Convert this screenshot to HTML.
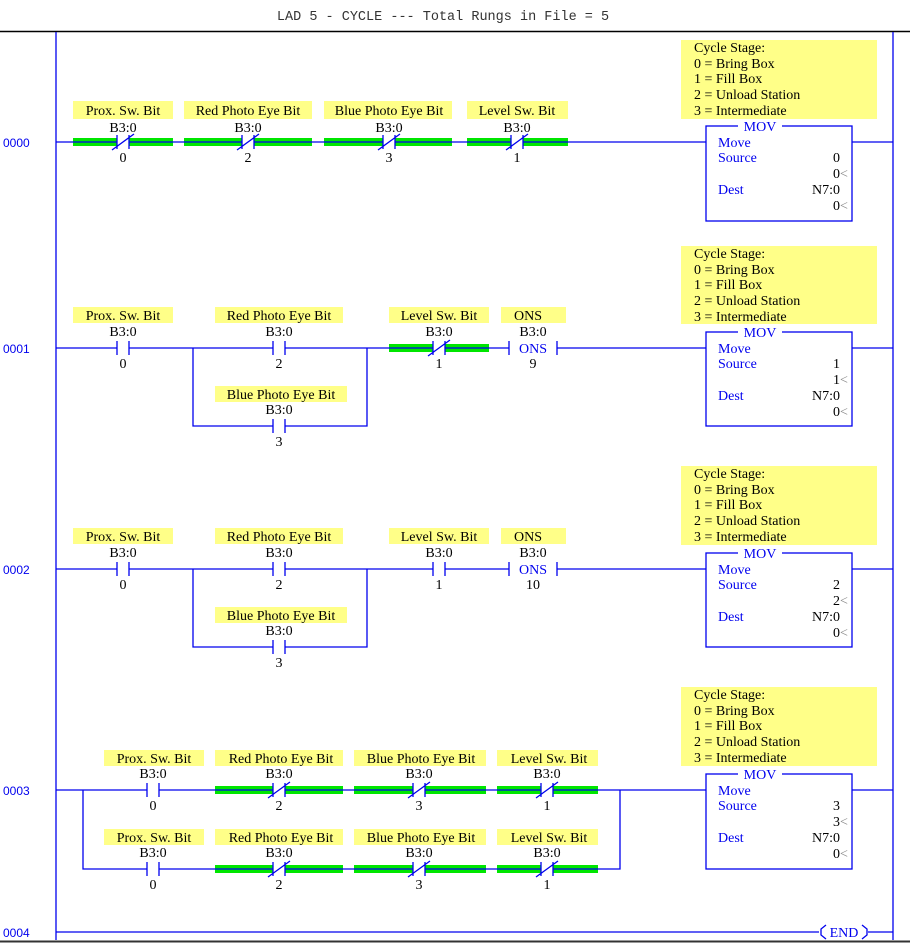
<!DOCTYPE html>
<html><head><meta charset="utf-8"><style>
html,body{margin:0;padding:0;background:#fff;}
svg{display:block;}
.l{font-family:"Liberation Serif",serif;font-size:14px;fill:#000;text-anchor:middle;}
.c{font-family:"Liberation Serif",serif;font-size:14px;fill:#000;}
.b{font-family:"Liberation Serif",serif;font-size:14px;fill:#0000ee;}
.r{font-family:"Liberation Sans",sans-serif;font-size:12px;fill:#0000ee;}
.w{stroke:#0000ee;stroke-width:1.3;fill:none;}
.y{fill:#ffff88;}
.g{fill:#00e600;}
</style></head><body>
<svg width="910" height="943" viewBox="0 0 910 943" xmlns="http://www.w3.org/2000/svg">
<defs>
<g id="nc"><rect x="-6" y="-5" width="12" height="10" fill="#fff"/><path class="w" d="M-6 -7V7M6 -7V7M-11 8L11 -8"/></g>
<g id="no"><rect x="-6" y="-5" width="12" height="10" fill="#fff"/><path class="w" d="M-6 -7V7M6 -7V7"/></g>
</defs>
<text x="443" y="20" text-anchor="middle" style="font-family:'Liberation Mono',monospace;font-size:13.5px;fill:#333">LAD 5 - CYCLE --- Total Rungs in File = 5</text>
<line x1="0" y1="31.5" x2="910" y2="31.5" stroke="#000" stroke-width="1.5"/>
<line x1="0" y1="941.5" x2="910" y2="941.5" stroke="#333" stroke-width="2"/>
<path class="w" d="M56 32V940M893 32V940"/>

<text class="r" x="3" y="147">0000</text>
<text class="r" x="3" y="353">0001</text>
<text class="r" x="3" y="574">0002</text>
<text class="r" x="3" y="795">0003</text>
<text class="r" x="3" y="937">0004</text>

<!-- RUNG 0 -->
<rect class="g" x="73" y="138" width="100" height="8"/>
<rect class="g" x="184" y="138" width="128" height="8"/>
<rect class="g" x="324" y="138" width="128" height="8"/>
<rect class="g" x="467" y="138" width="101" height="8"/>
<path class="w" d="M56 142H706M852 142H893"/>
<rect class="y" x="73" y="101" width="100" height="18"/><text class="l" x="123" y="115">Prox. Sw. Bit</text>
<rect class="y" x="184" y="101" width="128" height="18"/><text class="l" x="248" y="115">Red Photo Eye Bit</text>
<rect class="y" x="324" y="101" width="128" height="18"/><text class="l" x="389" y="115">Blue Photo Eye Bit</text>
<rect class="y" x="467" y="101" width="101" height="18"/><text class="l" x="517" y="115">Level Sw. Bit</text>
<text class="l" x="123" y="132">B3:0</text><text class="l" x="123" y="162">0</text><use href="#nc" x="123" y="142"/>
<text class="l" x="248" y="132">B3:0</text><text class="l" x="248" y="162">2</text><use href="#nc" x="248" y="142"/>
<text class="l" x="389" y="132">B3:0</text><text class="l" x="389" y="162">3</text><use href="#nc" x="389" y="142"/>
<text class="l" x="517" y="132">B3:0</text><text class="l" x="517" y="162">1</text><use href="#nc" x="517" y="142"/>

<!-- RUNG 1 -->
<path class="w" d="M56 348H706M852 348H893M193 348V426H367V348"/>
<rect class="g" x="389" y="344" width="100" height="8"/>
<path class="w" d="M389 348H489"/>
<rect class="y" x="73" y="307" width="100" height="16"/><text class="l" x="123" y="320">Prox. Sw. Bit</text>
<rect class="y" x="215" y="307" width="128" height="16"/><text class="l" x="279" y="320">Red Photo Eye Bit</text>
<rect class="y" x="215" y="386" width="132" height="16"/><text class="l" x="281" y="399">Blue Photo Eye Bit</text>
<rect class="y" x="389" y="307" width="100" height="16"/><text class="l" x="439" y="320">Level Sw. Bit</text>
<rect class="y" x="501" y="307" width="65" height="16"/><text class="l" x="528" y="320">ONS</text>
<text class="l" x="123" y="336">B3:0</text><text class="l" x="123" y="368">0</text><use href="#no" x="123" y="348"/>
<text class="l" x="279" y="336">B3:0</text><text class="l" x="279" y="368">2</text><use href="#no" x="279" y="348"/>
<text class="l" x="279" y="414">B3:0</text><text class="l" x="279" y="446">3</text><use href="#no" x="279" y="426"/>
<text class="l" x="439" y="336">B3:0</text><text class="l" x="439" y="368">1</text><use href="#nc" x="439" y="348"/>
<text class="l" x="533" y="336">B3:0</text><text class="l" x="533" y="368">9</text>
<rect x="509" y="341" width="48" height="14" fill="#fff"/><path class="w" d="M509 341V355M557 341V355"/><text class="b" x="533" y="353" text-anchor="middle">ONS</text>

<!-- RUNG 2 -->
<path class="w" d="M56 569H706M852 569H893M193 569V647H367V569"/>
<rect class="y" x="73" y="528" width="100" height="16"/><text class="l" x="123" y="541">Prox. Sw. Bit</text>
<rect class="y" x="215" y="528" width="128" height="16"/><text class="l" x="279" y="541">Red Photo Eye Bit</text>
<rect class="y" x="215" y="607" width="132" height="16"/><text class="l" x="281" y="620">Blue Photo Eye Bit</text>
<rect class="y" x="389" y="528" width="100" height="16"/><text class="l" x="439" y="541">Level Sw. Bit</text>
<rect class="y" x="501" y="528" width="65" height="16"/><text class="l" x="528" y="541">ONS</text>
<text class="l" x="123" y="557">B3:0</text><text class="l" x="123" y="589">0</text><use href="#no" x="123" y="569"/>
<text class="l" x="279" y="557">B3:0</text><text class="l" x="279" y="589">2</text><use href="#no" x="279" y="569"/>
<text class="l" x="279" y="635">B3:0</text><text class="l" x="279" y="667">3</text><use href="#no" x="279" y="647"/>
<text class="l" x="439" y="557">B3:0</text><text class="l" x="439" y="589">1</text><use href="#no" x="439" y="569"/>
<text class="l" x="533" y="557">B3:0</text><text class="l" x="533" y="589">10</text>
<rect x="509" y="562" width="48" height="14" fill="#fff"/><path class="w" d="M509 562V576M557 562V576"/><text class="b" x="533" y="574" text-anchor="middle">ONS</text>

<!-- RUNG 3 -->
<rect class="g" x="215" y="786" width="128" height="8"/><rect class="g" x="354" y="786" width="132" height="8"/><rect class="g" x="497" y="786" width="101" height="8"/>
<rect class="g" x="215" y="865" width="128" height="8"/><rect class="g" x="354" y="865" width="132" height="8"/><rect class="g" x="497" y="865" width="101" height="8"/>
<path class="w" d="M56 790H706M852 790H893M83 790V869H620V790"/>
<rect class="y" x="104" y="750" width="100" height="16"/><text class="l" x="154" y="763">Prox. Sw. Bit</text>
<rect class="y" x="215" y="750" width="128" height="16"/><text class="l" x="281" y="763">Red Photo Eye Bit</text>
<rect class="y" x="354" y="750" width="132" height="16"/><text class="l" x="421" y="763">Blue Photo Eye Bit</text>
<rect class="y" x="497" y="750" width="101" height="16"/><text class="l" x="549" y="763">Level Sw. Bit</text>
<text class="l" x="153" y="778">B3:0</text><text class="l" x="153" y="810">0</text><use href="#no" x="153" y="790"/>
<text class="l" x="279" y="778">B3:0</text><text class="l" x="279" y="810">2</text><use href="#nc" x="279" y="790"/>
<text class="l" x="419" y="778">B3:0</text><text class="l" x="419" y="810">3</text><use href="#nc" x="419" y="790"/>
<text class="l" x="547" y="778">B3:0</text><text class="l" x="547" y="810">1</text><use href="#nc" x="547" y="790"/>
<rect class="y" x="104" y="829" width="100" height="16"/><text class="l" x="154" y="842">Prox. Sw. Bit</text>
<rect class="y" x="215" y="829" width="128" height="16"/><text class="l" x="281" y="842">Red Photo Eye Bit</text>
<rect class="y" x="354" y="829" width="132" height="16"/><text class="l" x="421" y="842">Blue Photo Eye Bit</text>
<rect class="y" x="497" y="829" width="101" height="16"/><text class="l" x="549" y="842">Level Sw. Bit</text>
<text class="l" x="153" y="857">B3:0</text><text class="l" x="153" y="889">0</text><use href="#no" x="153" y="869"/>
<text class="l" x="279" y="857">B3:0</text><text class="l" x="279" y="889">2</text><use href="#nc" x="279" y="869"/>
<text class="l" x="419" y="857">B3:0</text><text class="l" x="419" y="889">3</text><use href="#nc" x="419" y="869"/>
<text class="l" x="547" y="857">B3:0</text><text class="l" x="547" y="889">1</text><use href="#nc" x="547" y="869"/>

<!-- Comments + MOV -->
<g transform="translate(0,0)">
<rect class="y" x="681" y="40" width="196" height="79"/>
<text class="c" x="694" y="52">Cycle Stage:</text><text class="c" x="694" y="68">0 = Bring Box</text><text class="c" x="694" y="83">1 = Fill Box</text><text class="c" x="694" y="99">2 = Unload Station</text><text class="c" x="694" y="115">3 = Intermediate</text>
<rect class="w" x="706" y="126" width="146" height="95" fill="#fff"/><rect x="738" y="120" width="44" height="12" fill="#fff"/>
<text class="b" x="760" y="131" text-anchor="middle">MOV</text>
<text class="b" x="718" y="147">Move</text><text class="b" x="718" y="162">Source</text><text class="b" x="718" y="194">Dest</text>
<text class="c" x="840" y="162" text-anchor="end">0</text><text class="c" x="840" y="178" text-anchor="end">0</text><text x="840" y="178" class="c" style="fill:#888">&lt;</text>
<text class="c" x="840" y="194" text-anchor="end">N7:0</text><text class="c" x="840" y="210" text-anchor="end">0</text><text x="840" y="210" class="c" style="fill:#888">&lt;</text>
</g>
<g transform="translate(0,206)">
<rect class="y" x="681" y="40" width="196" height="78"/>
<text class="c" x="694" y="52">Cycle Stage:</text><text class="c" x="694" y="68">0 = Bring Box</text><text class="c" x="694" y="83">1 = Fill Box</text><text class="c" x="694" y="99">2 = Unload Station</text><text class="c" x="694" y="115">3 = Intermediate</text>
<rect class="w" x="706" y="126" width="146" height="94" fill="#fff"/><rect x="738" y="120" width="44" height="12" fill="#fff"/>
<text class="b" x="760" y="131" text-anchor="middle">MOV</text>
<text class="b" x="718" y="147">Move</text><text class="b" x="718" y="162">Source</text><text class="b" x="718" y="194">Dest</text>
<text class="c" x="840" y="162" text-anchor="end">1</text><text class="c" x="840" y="178" text-anchor="end">1</text><text x="840" y="178" class="c" style="fill:#888">&lt;</text>
<text class="c" x="840" y="194" text-anchor="end">N7:0</text><text class="c" x="840" y="210" text-anchor="end">0</text><text x="840" y="210" class="c" style="fill:#888">&lt;</text>
</g>
<g transform="translate(0,427)">
<rect class="y" x="681" y="39" width="196" height="79"/>
<text class="c" x="694" y="51">Cycle Stage:</text><text class="c" x="694" y="67">0 = Bring Box</text><text class="c" x="694" y="82">1 = Fill Box</text><text class="c" x="694" y="98">2 = Unload Station</text><text class="c" x="694" y="114">3 = Intermediate</text>
<rect class="w" x="706" y="126" width="146" height="94" fill="#fff"/><rect x="738" y="120" width="44" height="12" fill="#fff"/>
<text class="b" x="760" y="131" text-anchor="middle">MOV</text>
<text class="b" x="718" y="147">Move</text><text class="b" x="718" y="162">Source</text><text class="b" x="718" y="194">Dest</text>
<text class="c" x="840" y="162" text-anchor="end">2</text><text class="c" x="840" y="178" text-anchor="end">2</text><text x="840" y="178" class="c" style="fill:#888">&lt;</text>
<text class="c" x="840" y="194" text-anchor="end">N7:0</text><text class="c" x="840" y="210" text-anchor="end">0</text><text x="840" y="210" class="c" style="fill:#888">&lt;</text>
</g>
<g transform="translate(0,648)">
<rect class="y" x="681" y="39" width="196" height="79"/>
<text class="c" x="694" y="51">Cycle Stage:</text><text class="c" x="694" y="67">0 = Bring Box</text><text class="c" x="694" y="82">1 = Fill Box</text><text class="c" x="694" y="98">2 = Unload Station</text><text class="c" x="694" y="114">3 = Intermediate</text>
<rect class="w" x="706" y="126" width="146" height="95" fill="#fff"/><rect x="738" y="120" width="44" height="12" fill="#fff"/>
<text class="b" x="760" y="131" text-anchor="middle">MOV</text>
<text class="b" x="718" y="147">Move</text><text class="b" x="718" y="162">Source</text><text class="b" x="718" y="194">Dest</text>
<text class="c" x="840" y="162" text-anchor="end">3</text><text class="c" x="840" y="178" text-anchor="end">3</text><text x="840" y="178" class="c" style="fill:#888">&lt;</text>
<text class="c" x="840" y="194" text-anchor="end">N7:0</text><text class="c" x="840" y="210" text-anchor="end">0</text><text x="840" y="210" class="c" style="fill:#888">&lt;</text>
</g>

<!-- RUNG 4 END -->
<path class="w" d="M56 932H819M868 932H893"/>
<path class="w" d="M826 925L821 929V935L826 939M862 925L867 929V935L862 939"/>
<text class="b" x="844" y="937" text-anchor="middle">END</text>
</svg>
</body></html>
